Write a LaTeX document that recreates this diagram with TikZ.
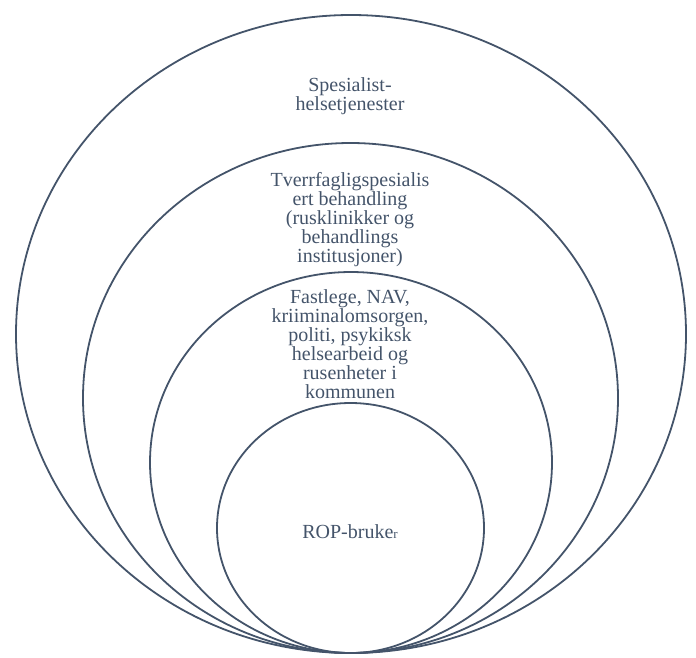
\documentclass[tikz,border=0pt]{standalone}
\usepackage{fontspec}
\setmainfont{Liberation Serif}
\definecolor{slate}{HTML}{44546A}
\begin{document}
\begin{tikzpicture}[x=1pt,y=-1pt,
  ring/.style={draw=slate,line width=1.8pt},
  lbl/.style={text=slate,align=center,inner sep=0pt,font=\fontsize{20}{19}\selectfont}]
\useasboundingbox (0,0) rectangle (696,657);
\draw[ring] (351,334) ellipse [x radius=335pt, y radius=319pt];
\draw[ring] (350.5,398) ellipse [x radius=267.5pt, y radius=255pt];
\draw[ring] (351,462.5) ellipse [x radius=201pt, y radius=190.5pt];
\draw[ring] (350.5,528) ellipse [x radius=133.5pt, y radius=125pt];
\node[lbl] (spes) at (350,96) {Spesialist-\\helsetjenester};
\node[lbl] (tverr) at (350,220) {Tverrfagligspesialis\\ert behandling\\(rusklinikker og\\behandlings\\institusjoner)};
\node[lbl] (fast) at (350,344.5) {Fastlege, NAV,\\kriiminalomsorgen,\\politi, psykiksk\\helsearbeid og\\rusenheter i\\kommunen};
\node[lbl] (rop) at (350,532) {ROP-bruke{\fontsize{13}{13}\selectfont r}};
\end{tikzpicture}
\end{document}
